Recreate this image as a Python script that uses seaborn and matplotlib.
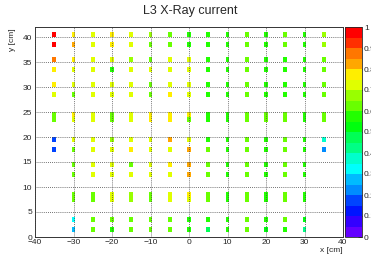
import colorsys

import numpy as np
import pandas as pd
import matplotlib
matplotlib.use("Agg")
import matplotlib.pyplot as plt
from matplotlib.colors import ListedColormap
from matplotlib.ticker import MultipleLocator
import seaborn as sns

# x positions of the pads (cm)
x_full = [-35, -30, -25, -20, -15, -10, -5, 0, 5, 10, 15, 20, 25, 30, 35]
x_mid = [-30, -25, -20, -15, -10, -5, 0, 5, 10, 15, 20, 25, 30]

# y bin centres (cm) and current per pad
y_rows = [40.5, 38.5, 35.5, 33.5, 30.5, 28.5, 24.5, 23.5,
          19.5, 17.5, 14.5, 12.5, 8.5, 7.5, 3.5, 1.5]

row_405 = [0.97, 0.77, 0.72, 0.76, 0.71, 0.68, 0.64, 0.58, 0.58, 0.57, 0.60, 0.58, 0.60, 0.58, 0.66]
row_385 = [0.95, 0.83, 0.72, 0.77, 0.72, 0.64, 0.60, 0.58, 0.57, 0.58, 0.60, 0.58, 0.60, 0.58, 0.68]
row_355 = [0.86, 0.78, 0.72, 0.72, 0.65, 0.60, 0.70, 0.74, 0.58, 0.58, 0.60, 0.58, 0.58, 0.58, 0.62]
row_335 = [0.77, 0.73, 0.72, 0.57, 0.71, 0.70, 0.70, 0.73, 0.58, 0.58, 0.60, 0.58, 0.58, 0.58, 0.60]
row_305 = [0.77, 0.72, 0.72, 0.71, 0.71, 0.62, 0.70, 0.73, 0.58, 0.58, 0.60, 0.58, 0.58, 0.58, 0.60]
row_285 = [0.73, 0.63, 0.72, 0.71, 0.71, 0.63, 0.76, 0.72, 0.58, 0.58, 0.60, 0.58, 0.58, 0.58, 0.60]
row_245 = [0.64, 0.77, 0.73, 0.64, 0.72, 0.77, 0.76, 0.78, 0.58, 0.58, 0.60, 0.60, 0.60, 0.58, 0.60]
row_235 = [0.64, 0.74, 0.73, 0.64, 0.72, 0.76, 0.76, 0.60, 0.58, 0.58, 0.60, 0.60, 0.60, 0.58, 0.60]
row_195 = [0.17, 0.70, 0.73, 0.68, 0.73, 0.72, 0.83, 0.72, 0.58, 0.58, 0.60, 0.58, 0.60, 0.58, 0.38]
row_175 = [0.18, 0.64, 0.72, 0.72, 0.78, 0.72, 0.72, 0.83, 0.60, 0.58, 0.60, 0.58, 0.60, 0.58, 0.22]
row_145 = [0.62, 0.73, 0.73, 0.64, 0.72, 0.77, 0.83, 0.60, 0.58, 0.60, 0.58, 0.60, 0.58]
row_125 = [0.62, 0.72, 0.71, 0.72, 0.72, 0.73, 0.84, 0.60, 0.58, 0.60, 0.58, 0.60, 0.58]
row_085 = [0.60, 0.63, 0.70, 0.65, 0.62, 0.70, 0.77, 0.60, 0.58, 0.60, 0.58, 0.60, 0.58]
row_075 = [0.60, 0.63, 0.70, 0.65, 0.62, 0.70, 0.73, 0.60, 0.58, 0.60, 0.58, 0.60, 0.58]
row_035 = [0.33, 0.60, 0.60, 0.60, 0.60, 0.62, 0.58, 0.58, 0.58, 0.60, 0.58, 0.60, 0.52]
row_015 = [0.29, 0.60, 0.58, 0.60, 0.60, 0.62, 0.58, 0.47, 0.58, 0.60, 0.50, 0.58, 0.42]

rows = [row_405, row_385, row_355, row_335, row_305, row_285, row_245, row_235,
        row_195, row_175, row_145, row_125, row_085, row_075, row_035, row_015]
cols = [x_full] * 10 + [x_mid] * 6

xs, ys, ws = [], [], []
for y, xc, vals in zip(y_rows, cols, rows):
    for x, v in zip(xc, vals):
        xs.append(x)
        ys.append(y)
        ws.append(v)
df = pd.DataFrame({'x': xs, 'y': ys, 'w': ws})

# old ROOT "pretty" palette, 50 colours sampled on 20 contours
pal = []
for k in range(20):
    idx = int((k + 0.99) * 50 / 20)
    hue = 280 - (idx + 1) * 280 / 50
    pal.append(colorsys.hls_to_rgb(hue / 360, 0.5, 1))
cmap = ListedColormap(pal)

sns.set_style("white")
plt.rcParams['font.family'] = ['Liberation Sans', 'DejaVu Sans']

fig = plt.figure(figsize=(3.71, 2.57), dpi=100)
ax = fig.add_axes([35 / 371, 20 / 257, 308 / 371, 210 / 257])
cax = fig.add_axes([345 / 371, 20 / 257, 17 / 371, 210 / 257])

sns.histplot(data=df, x='x', y='y', weights='w',
             bins=(np.arange(-40.5, 41, 1), np.arange(0, 43, 1)),
             cmap=cmap, vmin=0, vmax=1, cbar=True, cbar_ax=cax, ax=ax)

ax.set_xlim(-40, 40)
ax.set_ylim(0, 42)
ax.set_xlabel('')
ax.set_ylabel('')
ax.xaxis.set_major_locator(MultipleLocator(10))
ax.xaxis.set_minor_locator(MultipleLocator(2))
ax.yaxis.set_major_locator(MultipleLocator(5))
ax.yaxis.set_minor_locator(MultipleLocator(1))
ax.tick_params(which='both', direction='in', top=False, right=False,
               labelsize=6, pad=2, color='#222222', width=0.6)
ax.tick_params(axis='x', which='major', length=5, pad=1.5)
ax.tick_params(axis='x', which='minor', length=2.5)
ax.tick_params(axis='y', which='major', length=6)
ax.tick_params(axis='y', which='minor', length=3)
ax.set_axisbelow(False)
ax.grid(True, which='major', linestyle=(0, (1, 1.5)), color='#444444', linewidth=0.6)
for s in ax.spines.values():
    s.set_color('#333333')
    s.set_linewidth(0.7)

cax.set_yticks(np.arange(0, 1.01, 0.1))
cax.set_yticklabels(['0'] + ['%.1f' % t for t in np.arange(0.1, 0.95, 0.1)] + ['1'])
cax.tick_params(direction='in', length=3, labelsize=6, pad=1.5, width=0.6)
for s in cax.spines.values():
    s.set_linewidth(0.6)

fig.text(190 / 371, 1 - 11 / 257, 'L3 X-Ray current', ha='center', va='center', fontsize=9)
fig.text(343 / 371, 1 - 251 / 257, 'x [cm]', ha='right', va='center', fontsize=6)
fig.text(12 / 371, 1 - 28 / 257, 'y [cm]', ha='center', va='top', rotation=90, fontsize=6)

fig.savefig('out.png', dpi=100)
